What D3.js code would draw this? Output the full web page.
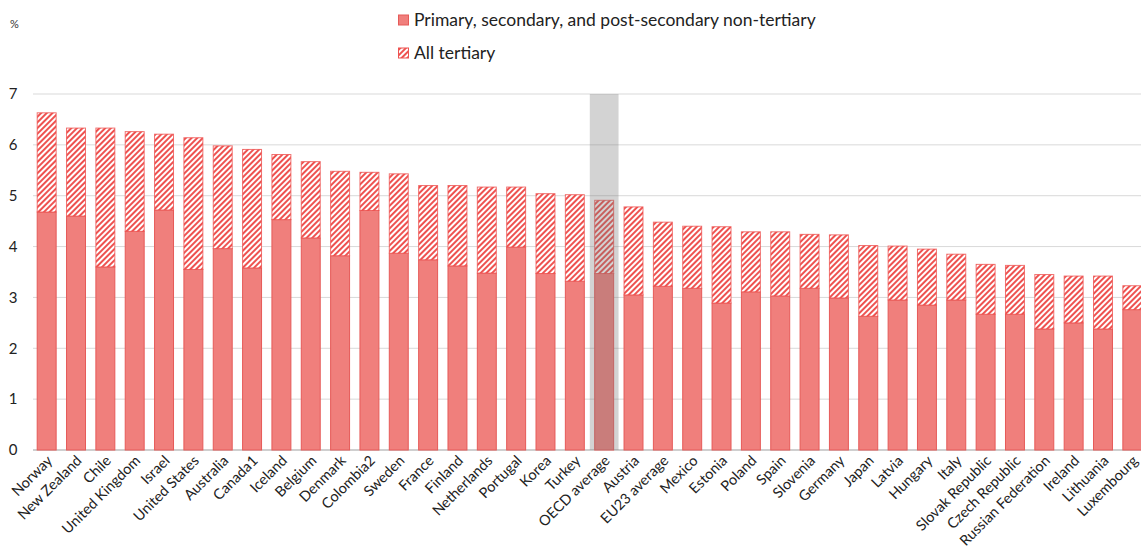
<!DOCTYPE html>
<html>
<head>
<meta charset="utf-8">
<script src="https://cdn.jsdelivr.net/npm/d3@7"></script>
<style>
  html, body { margin: 0; padding: 0; background: #fff; }
  svg { display: block; font-family: Lato, "Open Sans", sans-serif; }
</style>
</head>
<body>
<svg id="chart" width="1141" height="550"></svg>
<script>
// Expenditure on educational institutions as % of GDP, by level
const countries = [
  "Norway", "New Zealand", "Chile", "United Kingdom", "Israel", "United States",
  "Australia", "Canada1", "Iceland", "Belgium", "Denmark", "Colombia2", "Sweden",
  "France", "Finland", "Netherlands", "Portugal", "Korea", "Turkey", "OECD average",
  "Austria", "EU23 average", "Mexico", "Estonia", "Poland", "Spain", "Slovenia",
  "Germany", "Japan", "Latvia", "Hungary", "Italy", "Slovak Republic",
  "Czech Republic", "Russian Federation", "Ireland", "Lithuania", "Luxembourg"
];
// Primary, secondary and post-secondary non-tertiary
const nonTertiary = [
  4.68, 4.60, 3.60, 4.30, 4.72, 3.55, 3.96, 3.58, 4.53, 4.17, 3.82, 4.71, 3.87,
  3.74, 3.62, 3.48, 3.99, 3.47, 3.32, 3.47, 3.05, 3.22, 3.18, 2.89, 3.11, 3.03,
  3.18, 2.99, 2.63, 2.95, 2.85, 2.95, 2.67, 2.67, 2.38, 2.50, 2.38, 2.76
];
// Total (non-tertiary + all tertiary)
const totals = [
  6.63, 6.33, 6.33, 6.26, 6.21, 6.14, 5.98, 5.91, 5.81, 5.67, 5.48, 5.46, 5.43,
  5.20, 5.20, 5.17, 5.17, 5.04, 5.02, 4.91, 4.78, 4.48, 4.40, 4.39, 4.29, 4.29,
  4.24, 4.23, 4.02, 4.01, 3.95, 3.85, 3.65, 3.63, 3.45, 3.42, 3.42, 3.23
];
const yTicks = [0, 1, 2, 3, 4, 5, 6, 7];
const highlighted = "OECD average";
const legendLabels = ["Primary, secondary, and post-secondary non-tertiary", "All tertiary"];

const rows = countries.map((c, i) => ({
  country: c,
  base: nonTertiary[i],
  tertiary: +(totals[i] - nonTertiary[i]).toFixed(2)
}));

const svg = d3.select("#chart");
const solidFill = "#f07f7c";
const solidStroke = "#e65a58";
const hatchStroke = "#ee5250";

// Diagonal hatching for the tertiary segments
const defs = svg.append("defs");
const pat = defs.append("pattern")
  .attr("id", "hatch")
  .attr("patternUnits", "userSpaceOnUse")
  .attr("width", 4).attr("height", 4)
  .attr("patternTransform", "rotate(45)");
pat.append("rect").attr("width", 4).attr("height", 4).attr("fill", "#fff");
pat.append("rect").attr("x", 0).attr("width", 2).attr("height", 4).attr("fill", hatchStroke);

const x = d3.scaleBand().domain(countries).range([32, 1147]).paddingInner(0.32).paddingOuter(0.16);
const y = d3.scaleLinear().domain([0, 7]).range([450, 94]);

// Gridlines
svg.append("g")
  .selectAll("line")
  .data(yTicks)
  .join("line")
  .attr("x1", 33).attr("x2", 1141)
  .attr("y1", d => y(d)).attr("y2", d => y(d))
  .attr("stroke", d => d === 0 ? "#bfbfbf" : "#d9d9d9")
  .attr("stroke-width", d => d === 0 ? 1.5 : 1);

// Y axis labels
svg.append("g")
  .selectAll("text")
  .data(yTicks)
  .join("text")
  .attr("x", 13).attr("y", d => y(d))
  .attr("dy", "0.35em")
  .attr("text-anchor", "middle")
  .attr("font-size", 15)
  .attr("fill", "#222")
  .text(d => d);

svg.append("text")
  .attr("x", 10).attr("y", 28)
  .attr("font-size", 11).attr("fill", "#333")
  .text("%");

const stack = d3.stack().keys(["base", "tertiary"])(rows);

const bars = svg.append("g");
// Non-tertiary segments
bars.selectAll("rect.base")
  .data(stack[0])
  .join("rect")
  .attr("class", "base")
  .attr("x", d => x(d.data.country) + 0.5)
  .attr("width", x.bandwidth() - 1)
  .attr("y", d => y(d[1]))
  .attr("height", d => y(d[0]) - y(d[1]))
  .attr("fill", solidFill)
  .attr("stroke", solidStroke)
  .attr("stroke-width", 1);

// Tertiary segments
bars.selectAll("rect.tert")
  .data(stack[1])
  .join("rect")
  .attr("class", "tert")
  .attr("x", d => x(d.data.country) + 0.5)
  .attr("width", x.bandwidth() - 1)
  .attr("y", d => y(d[1]))
  .attr("height", d => y(d[0]) - y(d[1]))
  .attr("fill", "url(#hatch)")
  .attr("stroke", hatchStroke)
  .attr("stroke-opacity", 0.8)
  .attr("stroke-width", 1);

// Shaded column marking the OECD average
const hw = x.step() * 0.98;
svg.append("rect")
  .attr("x", x(highlighted) + x.bandwidth() / 2 - hw / 2)
  .attr("width", hw)
  .attr("y", y(7))
  .attr("height", y(0) - y(7))
  .attr("fill", "#787878")
  .attr("opacity", 0.33);

// X axis labels, rotated
svg.append("g")
  .selectAll("text")
  .data(countries)
  .join("text")
  .attr("transform", d => `translate(${x(d) + x.bandwidth() / 2 + 3},${458}) rotate(-45)`)
  .attr("text-anchor", "end")
  .attr("dy", "0.35em")
  .attr("font-size", 14.5)
  .attr("fill", "#222")
  .text(d => d);

// Legend
const legend = svg.append("g");
const items = [
  { label: legendLabels[0], fill: solidFill, stroke: solidStroke, y: 20 },
  { label: legendLabels[1], fill: "url(#hatch)", stroke: hatchStroke, y: 53 }
];
items.forEach(it => {
  legend.append("rect")
    .attr("x", 398.5).attr("y", it.y - 5)
    .attr("width", 10).attr("height", 10)
    .attr("fill", it.fill).attr("stroke", it.stroke).attr("stroke-width", 1);
  legend.append("text")
    .attr("x", 414).attr("y", it.y)
    .attr("dy", "0.35em")
    .attr("font-size", 17.5)
    .attr("fill", "#222")
    .text(it.label);
});
</script>
</body>
</html>
